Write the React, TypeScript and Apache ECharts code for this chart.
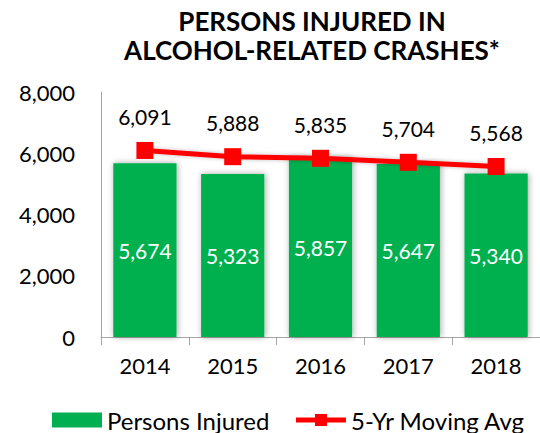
import React, { useEffect, useRef } from "react";
import * as echarts from "echarts";

const years = ["2014", "2015", "2016", "2017", "2018"];
const personsInjured = [5674, 5323, 5857, 5647, 5340];
const movingAvg = [6091, 5888, 5835, 5704, 5568];
const titleLines = ["PERSONS INJURED IN", "ALCOHOL-RELATED CRASHES*"];

const FONT = "Lato, 'Open Sans', sans-serif";
const fmt = (v: number) => v.toLocaleString("en-US");

export default function App() {
  const ref = useRef<HTMLDivElement>(null);
  useEffect(() => {
    document.body.style.margin = "0";
    const chart = echarts.init(ref.current!, null, { renderer: "svg" });
    chart.setOption({
      animation: false,
      backgroundColor: "#ffffff",
      textStyle: { fontFamily: FONT },
      graphic: [
        {
          type: "text",
          x: 312,
          y: 6,
          style: {
            text: titleLines.join("\n"),
            fontFamily: FONT,
            fontWeight: "bold",
            fontSize: 26,
            lineHeight: 29,
            fill: "#000",
            textAlign: "center",
          },
        },
      ],
      grid: { left: 101, right: -5, top: 92, bottom: 96 },
      legend: {
        left: 52,
        top: 408,
        padding: 0,
        itemWidth: 50,
        itemHeight: 15,
        itemGap: 24,
        selectedMode: false,
        textStyle: { fontSize: 24, color: "#000", fontFamily: FONT },
        data: [
          { name: "Persons Injured", icon: "rect" },
          {
            name: "5-Yr Moving Avg",
            lineStyle: { width: 5, color: "#FF0000" },
            itemStyle: { color: "#FF0000" },
          },
        ],
      },
      xAxis: {
        type: "category",
        data: years,
        axisLine: { lineStyle: { color: "#A6A6A6", width: 1 } },
        axisTick: { show: true, length: 8, lineStyle: { color: "#A6A6A6" } },
        axisLabel: { fontSize: 22, color: "#000", margin: 17, fontFamily: FONT },
      },
      yAxis: {
        type: "value",
        min: 0,
        max: 8000,
        interval: 2000,
        splitLine: { show: false },
        axisLine: { show: true, lineStyle: { color: "#A6A6A6", width: 1 } },
        axisTick: { show: false },
        axisLabel: {
          fontSize: 22,
          color: "#000",
          margin: 26,
          fontFamily: FONT,
          formatter: (v: number) => fmt(v),
        },
      },
      series: [
        {
          name: "Persons Injured",
          type: "bar",
          data: personsInjured,
          barWidth: "72%",
          itemStyle: {
            color: "#00B050",
            shadowColor: "rgba(0,0,0,0.35)",
            shadowBlur: 6,
            shadowOffsetX: 1,
            shadowOffsetY: 0,
          },
          label: {
            show: true,
            position: "inside",
            color: "#fff",
            fontSize: 21,
            fontFamily: FONT,
            formatter: (p: any) => fmt(p.value),
          },
        },
        {
          name: "5-Yr Moving Avg",
          type: "line",
          data: movingAvg,
          symbol: "rect",
          symbolSize: 17,
          lineStyle: {
            color: "#FF0000",
            width: 5,
            shadowColor: "rgba(0,0,0,0.25)",
            shadowBlur: 4,
          },
          itemStyle: { color: "#FF0000" },
          label: {
            show: true,
            position: "top",
            distance: 15,
            color: "#000",
            fontSize: 21,
            fontFamily: FONT,
            formatter: (p: any) => fmt(p.value),
          },
        },
      ],
    });
    return () => chart.dispose();
  }, []);
  return (
    <div
      ref={ref}
      style={{ width: 540, height: 433, position: "absolute", left: 0, top: 0 }}
    />
  );
}
